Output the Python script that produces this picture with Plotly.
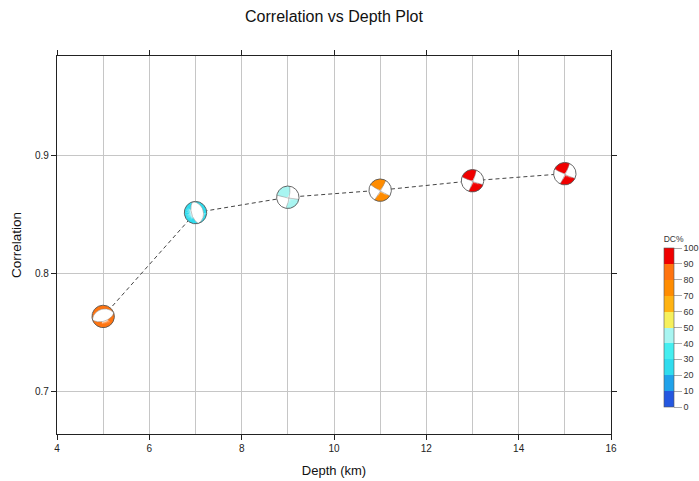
import numpy as np
import plotly.graph_objects as go

# ---------------- data ----------------
depth = [5, 7, 9, 11, 13, 15]
corr = [0.764, 0.852, 0.865, 0.871, 0.879, 0.885]
dc_pct = [83, 28, 45, 75, 95, 97]
strike = [72, 345, 10, 30, 20, 25]
dip = [55, 30, 80, 85, 85, 85]
rake = [-90, -90, 175, 175, 175, 175]

dc_colors = ["#2457e0", "#20a2ea", "#30dcee", "#45eef0", "#a8f5f1",
             "#f6f05c", "#ffb312", "#ff8c00", "#ff7410", "#f00000"]
dc_ticks = list(range(0, 101, 10))

# ---------------- layout constants ----------------
W, H = 699, 481
ML, MR, MT, MB = 57, 88, 56, 47
PW, PH = W - ML - MR, H - MT - MB
X_RANGE = [4, 16]
Y_RANGE = [0.6644, 0.9847]
R_PX = 11.2
rx = R_PX * (X_RANGE[1] - X_RANGE[0]) / PW
ry = R_PX * (Y_RANGE[1] - Y_RANGE[0]) / PH
FONT = "Liberation Sans, Arial"


def fault_vectors(s, d, r):
    s, d, r = np.radians([s, d, r])
    nu = np.array([-np.sin(d) * np.sin(s), np.sin(d) * np.cos(s), -np.cos(d)])
    u = np.array([np.cos(r) * np.cos(s) + np.cos(d) * np.sin(r) * np.sin(s),
                  np.cos(r) * np.sin(s) - np.cos(d) * np.sin(r) * np.cos(s),
                  -np.sin(d) * np.sin(r)])
    return u, nu


def ball_polys(x0, y0, s, d, r, na=360, nr=160):
    u, nu = fault_vectors(s, d, r)
    az_e = np.linspace(0, 2 * np.pi, na + 1)
    az_c = 0.5 * (az_e[:-1] + az_e[1:])
    r_e = np.linspace(0, 1, nr + 1)
    r_c = 0.5 * (r_e[:-1] + r_e[1:])
    A, Rr = np.meshgrid(az_c, r_c, indexing="ij")
    inc = 2 * np.arcsin(Rr / np.sqrt(2))
    n = np.stack([np.sin(inc) * np.cos(A), np.sin(inc) * np.sin(A), np.cos(inc)], -1)
    pol = (n @ u) * (n @ nu) > 0
    xs, ys = [], []
    eps = 0.3 * (az_e[1] - az_e[0])

    def pt(rr, aa):
        xs.append(x0 + rr * np.sin(aa) * rx)
        ys.append(y0 + rr * np.cos(aa) * ry)

    for k in range(na):
        row = pol[k]
        j = 0
        while j < nr:
            if row[j]:
                j0 = j
                while j < nr and row[j]:
                    j += 1
                ra, rb = r_e[j0], r_e[j]
                a0, a1 = az_e[k] - eps, az_e[k + 1] + eps
                pt(rb, a0); pt(rb, a1)
                if ra == 0:
                    pt(0, 0)
                else:
                    pt(ra, a1); pt(ra, a0)
                xs.append(None); ys.append(None)
            else:
                j += 1
    return xs, ys


def nodal_lines(x0, y0, s, d, r):
    u, nu = fault_vectors(s, d, r)
    xs, ys = [], []
    for v in (nu, u):
        e1 = np.cross(v, [0, 0, 1.0])
        if np.linalg.norm(e1) < 1e-9:
            continue
        e1 /= np.linalg.norm(e1)
        e2 = np.cross(v, e1)
        if e2[2] < 0:
            e2 = -e2
        for t in np.linspace(0, np.pi, 120):
            n = np.cos(t) * e1 + np.sin(t) * e2
            inc = np.arccos(np.clip(n[2], -1, 1))
            az = np.arctan2(n[1], n[0])
            rr = np.sqrt(2) * np.sin(inc / 2)
            xs.append(x0 + rr * np.sin(az) * rx)
            ys.append(y0 + rr * np.cos(az) * ry)
        xs.append(None); ys.append(None)
    return xs, ys


def circle(x0, y0):
    t = np.linspace(0, 2 * np.pi, 121)
    return list(x0 + np.sin(t) * rx) + [None], list(y0 + np.cos(t) * ry) + [None]


fig = go.Figure()

fig.add_trace(go.Scatter(x=depth, y=corr, mode="lines",
                         line=dict(color="#444444", width=1, dash="4px,3px"),
                         hoverinfo="skip", showlegend=False))

wx, wy = [], []
for x0, y0 in zip(depth, corr):
    cx, cy = circle(x0, y0)
    wx += cx; wy += cy
fig.add_trace(go.Scatter(x=wx, y=wy, mode="lines", fill="toself", fillcolor="white",
                         line=dict(width=0), hoverinfo="skip", showlegend=False))

for x0, y0, s, d, r, p in zip(depth, corr, strike, dip, rake, dc_pct):
    col = dc_colors[min(int(p // 10), 9)]
    px, py = ball_polys(x0, y0, s, d, r)
    fig.add_trace(go.Scatter(x=px, y=py, mode="lines", fill="toself", fillcolor=col,
                             line=dict(width=0), hoverinfo="skip", showlegend=False))

lx, ly = [], []
for x0, y0, s, d, r in zip(depth, corr, strike, dip, rake):
    nx, ny = nodal_lines(x0, y0, s, d, r)
    lx += nx; ly += ny
fig.add_trace(go.Scatter(x=lx, y=ly, mode="lines", line=dict(color="#888888", width=0.5),
                         hoverinfo="skip", showlegend=False))
ox, oy = [], []
for x0, y0 in zip(depth, corr):
    cx, cy = circle(x0, y0)
    ox += cx; oy += cy
fig.add_trace(go.Scatter(x=ox, y=oy, mode="lines", line=dict(color="#555555", width=0.9),
                         hoverinfo="skip", showlegend=False))

cs = []
for i, c in enumerate(dc_colors):
    cs.append([i / 10, c]); cs.append([(i + 1) / 10, c])
fig.add_trace(go.Scatter(
    x=depth, y=corr, mode="markers", hoverinfo="skip", showlegend=False,
    marker=dict(size=1, opacity=0, color=dc_pct, cmin=0, cmax=100, colorscale=cs,
                showscale=True,
                colorbar=dict(thickness=10, len=174, lenmode="pixels",
                              x=(664 - ML) / PW, xanchor="left", xpad=0,
                              y=(H - MB - 320) / PH, yanchor="middle", ypad=0,
                              outlinewidth=0.6, outlinecolor="#555555",
                              tickvals=dc_ticks, ticks="outside", ticklen=8,
                              tickcolor="#aaaaaa", tickwidth=0.5,
                              tickfont=dict(size=9, color="#333333", family=FONT),
                              title=dict(text="DC%", side="top",
                                         font=dict(size=8.5, color="#333333", family=FONT))))))

axis_common = dict(showline=True, linewidth=1.3, linecolor="#222222", mirror="ticks",
                   ticks="outside", ticklen=5, tickwidth=1, tickcolor="#222222",
                   showgrid=True, gridcolor="#c6c6c6", gridwidth=1, zeroline=False,
                   tickfont=dict(size=10, color="#222222", family=FONT))

fig.update_layout(
    width=W, height=H,
    margin=dict(l=ML, r=MR, t=MT, b=MB, autoexpand=False),
    paper_bgcolor="white", plot_bgcolor="white",
    title=dict(text="Correlation vs Depth Plot", x=(ML + PW / 2) / W, xanchor="center",
               y=1 - 16 / H, yanchor="middle",
               font=dict(size=16, color="#111111", family=FONT)),
    xaxis=dict(range=X_RANGE, dtick=2, tick0=4,
               minor=dict(dtick=1, showgrid=True, gridcolor="#c6c6c6", gridwidth=1),
               title=dict(text="Depth (km)", standoff=12,
                          font=dict(size=13, color="#111111", family=FONT)),
               **axis_common),
    yaxis=dict(range=Y_RANGE, dtick=0.1, tick0=0.7, tickformat=".1f",
               title=dict(text="Correlation", standoff=10,
                          font=dict(size=13.5, color="#111111", family=FONT)),
               **axis_common),
)

fig.write_html("out.html")
